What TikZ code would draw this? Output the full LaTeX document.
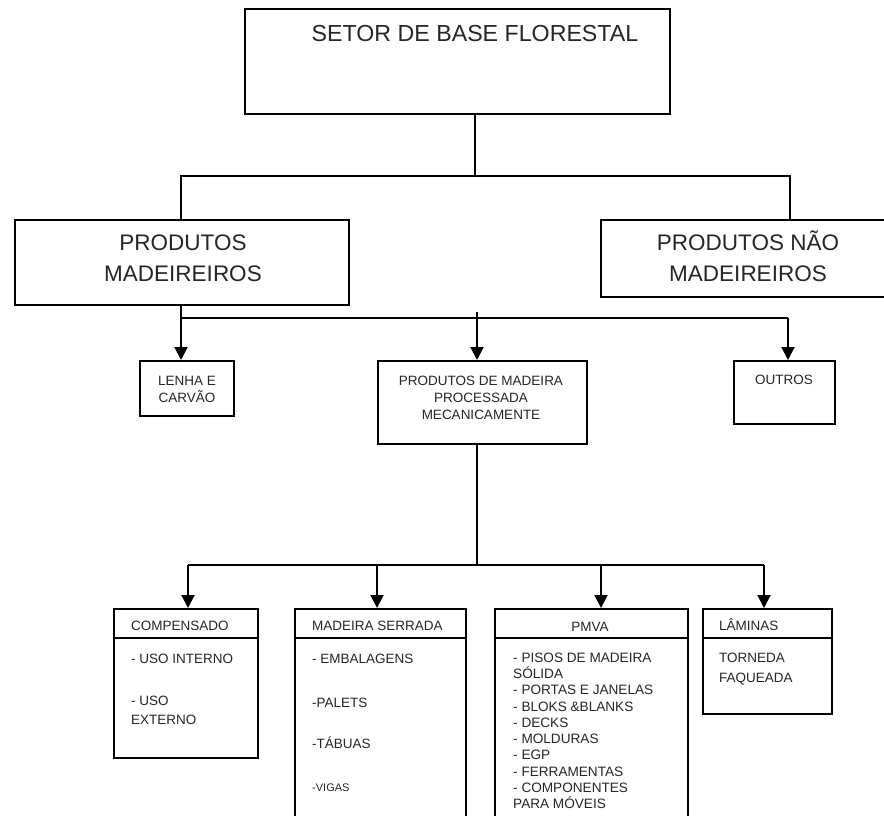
\documentclass[tikz,border=0pt]{standalone}
\usepackage{fontspec}
\setmainfont{Liberation Sans}
\usetikzlibrary{arrows.meta}
\newcommand\tstrut{\rule{0pt}{1em}}
\definecolor{ink}{HTML}{262626}
\tikzset{
  box/.style={draw=black, line width=1.8pt, anchor=north west, inner sep=0pt, fill=none},
  txt/.style={inner sep=0pt, text=ink},
  big/.style={txt, font=\fontsize{22.5}{31}\selectfont, align=center, anchor=north},
  mid/.style={txt, font=\fontsize{13.5}{17}\selectfont, align=center, anchor=north},
  head/.style={txt, font=\fontsize{13.5}{17}\selectfont, anchor=north west},
  item/.style={txt, font=\fontsize{13.5}{19}\selectfont, align=left, anchor=north west},
  thinline/.style={line width=1.3pt},
  midline/.style={line width=1.8pt},
  arr/.style={line width=2pt, -{Triangle[width=13pt,length=13pt]}},
}
\begin{document}
\begin{tikzpicture}[x=1pt,y=-1pt]
\useasboundingbox (0,0) rectangle (884,816);
\clip (0,0) rectangle (884,816);
\fill[white] (0,0) rectangle (884,816);

% boxes
\node[box, minimum width=425pt, minimum height=105pt] (top) at (244,8) {};
\node[box, minimum width=334pt, minimum height=85pt] (pm) at (14,219) {};
\node[box, minimum width=320pt, minimum height=77pt] (pnm) at (600,219) {};
\node[box, minimum width=94pt, minimum height=55pt] (lenha) at (139,360) {};
\node[box, minimum width=209pt, minimum height=83pt] (pmm) at (377,360) {};
\node[box, minimum width=101pt, minimum height=63pt] (outros) at (733,360) {};
\node[box, minimum width=144pt, minimum height=149pt] (comp) at (113,608) {};
\node[box, minimum width=171pt, minimum height=230pt] (ms) at (294,608) {};
\node[box, minimum width=193pt, minimum height=230pt] (pmva) at (494,608) {};
\node[box, minimum width=129pt, minimum height=105pt] (lam) at (702,608) {};

% header dividers
\draw[line width=1.8pt] (comp.north west) ++(0,30) -- ++(144,0);
\draw[line width=1.8pt] (ms.north west) ++(0,30) -- ++(171,0);
\draw[line width=1.8pt] (pmva.north west) ++(0,30) -- ++(193,0);
\draw[line width=1.8pt] (lam.north west) ++(0,30) -- ++(129,0);

% texts
\node[big, font=\fontsize{23.2}{31}\selectfont] (ttop) at (475,17.9) {\tstrut SETOR DE BASE FLORESTAL};
\node[big] (tpm) at (183,227.6) {\tstrut PRODUTOS\\MADEIREIROS};
\node[big] (tpnm) at (748,227.6) {\tstrut PRODUTOS NÃO\\MADEIREIROS};
\node[mid] (tlenha) at (187,371.3) {\tstrut LENHA E\\CARVÃO};
\node[mid] (tpmm) at (481,371.3) {\tstrut PRODUTOS DE MADEIRA\\PROCESSADA\\MECANICAMENTE};
\node[mid] (toutros) at (784,370.3) {\tstrut OUTROS};

\node[head] (tcomp) at (131,616.3) {\tstrut COMPENSADO};
\node[head] (tms) at (312,616.3) {\tstrut MADEIRA SERRADA};
\node[mid] (tpmva) at (590,617.3) {\tstrut PMVA};
\node[head] (tlam) at (719,616.3) {\tstrut LÂMINAS};

\node[item] (c1) at (131,649.3) {\tstrut - USO INTERNO};
\node[item] (c2) at (131,691.3) {\tstrut - USO\\EXTERNO};

\node[item] (m1) at (312,649.3) {\tstrut - EMBALAGENS};
\node[item] (m2) at (312,693.3) {\tstrut -PALETS};
\node[item] (m3) at (312,734.3) {\tstrut -TÁBUAS};
\node[item, font=\fontsize{11}{13}\selectfont] (m4) at (312,780) {\tstrut -VIGAS};

\node[item, font=\fontsize{13.6}{16.3}\selectfont] (p1) at (513,648.3) {\tstrut - PISOS DE MADEIRA\\SÓLIDA\\- PORTAS E JANELAS\\- BLOKS \&BLANKS\\- DECKS\\- MOLDURAS\\- EGP\\- FERRAMENTAS\\- COMPONENTES\\PARA MÓVEIS};

\node[item, font=\fontsize{13.5}{20}\selectfont] (l1) at (719,648.3) {\tstrut TORNEDA\\FAQUEADA};

% connectors level 1 -> 2
\coordinate (j0) at (475,176);
\coordinate (j0l) at (181,176);
\coordinate (j0r) at (790,176);
\draw[thinline] (top.south -| j0) -- (j0);
\draw[thinline] (j0l |- pm.north) -- (j0l) -- (j0r) -- (j0r |- pnm.north);

% level 2 -> 3
\coordinate (j1) at (181,318);
\coordinate (j1r) at (788,318);
\coordinate (j1m) at (477,312);
\draw[midline] (pm.south -| j1) -- (j1) -- (j1r);
\draw[arr] (j1) -- (j1 |- lenha.north);
\draw[arr] (j1m) -- (j1m |- pmm.north);
\draw[arr] (j1r) -- (j1r |- outros.north);

% level 3 -> 4
\coordinate (j2) at (477,565);
\coordinate (j2a) at (188,565);
\coordinate (j2b) at (377,565);
\coordinate (j2c) at (601,565);
\coordinate (j2d) at (764,565);
\draw[midline] (pmm.south -| j2) -- (j2);
\draw[midline] (j2a) -- (j2d);
\draw[arr] (j2a) -- (j2a |- comp.north);
\draw[arr] (j2b) -- (j2b |- ms.north);
\draw[arr] (j2c) -- (j2c |- pmva.north);
\draw[arr] (j2d) -- (j2d |- lam.north);
\end{tikzpicture}
\end{document}
